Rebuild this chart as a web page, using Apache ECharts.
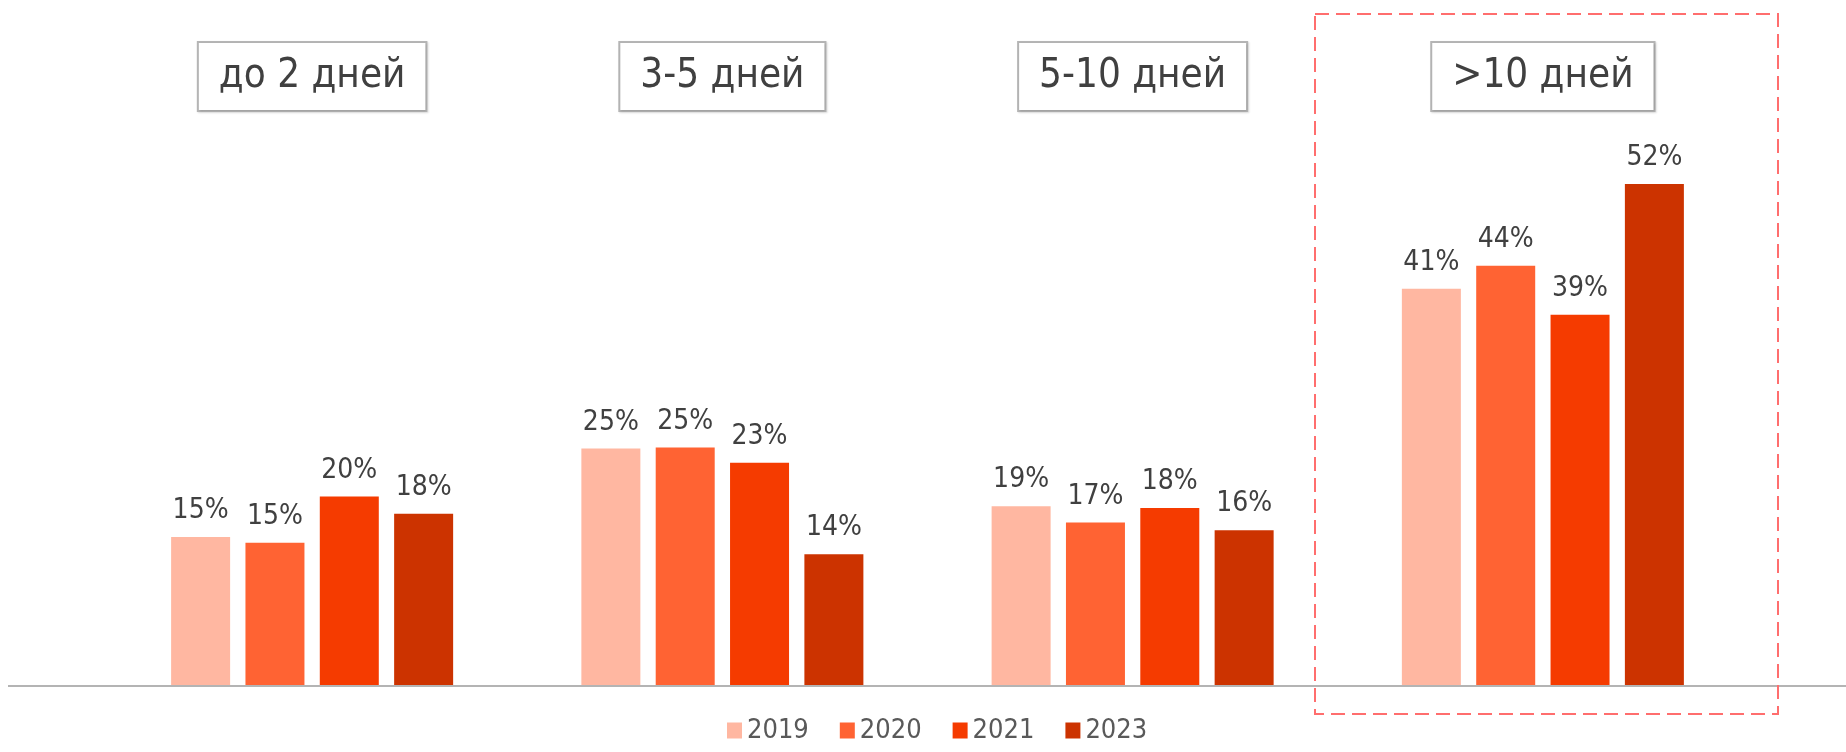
<!DOCTYPE html>
<html>
<head>
<meta charset="utf-8">
<script src="https://cdn.jsdelivr.net/npm/echarts@6/dist/echarts.min.js"></script>
<style>
  html, body { margin: 0; padding: 0; background: #fff; }
  #chart { width: 1846px; height: 752px; }
</style>
</head>
<body>
<div id="chart"></div>
<script>
// категории и значения (доли, %)
const categories = ['до 2 дней', '3-5 дней', '5-10 дней', '>10 дней']
const years = ['2019', '2020', '2021', '2023']
const v2019 = [15.4, 24.6, 18.6, 41.2]
const v2020 = [14.8, 24.7, 16.9, 43.6]
const v2021 = [19.6, 23.1, 18.4, 38.5]
const v2023 = [17.8, 13.6, 16.1, 52.1]
const colors = ['#FFB7A1', '#FF6333', '#F53B00', '#CC3300']

const font = '"DejaVu Sans Condensed", "DejaVu Sans", sans-serif'
const seriesValues = [v2019, v2020, v2021, v2023]

const chart = echarts.init(document.getElementById('chart'))

const option = {
  animation: false,
  color: colors,
  grid: { left: 107, right: 98, top: 108, bottom: 67 },
  legend: {
    data: years,
    left: 722,
    bottom: 3,
    itemWidth: 15,
    itemHeight: 16,
    itemGap: 31,
    icon: 'rect',
    textStyle: { fontFamily: font, fontSize: 27, color: '#595959' }
  },
  xAxis: [
    {
      type: 'category',
      data: categories,
      axisLine: { show: false },
      axisTick: { show: false },
      axisLabel: { show: false }
    },
    {
      type: 'category',
      position: 'top',
      data: categories,
      axisLine: { show: false },
      axisTick: { show: false },
      axisLabel: {
        margin: -2,
        fontFamily: font,
        fontSize: 40,
        lineHeight: 44,
        color: '#404040',
        borderColor: '#b5b5b5',
        borderWidth: 2,
        padding: [12, 20, 11, 20],
        backgroundColor: '#fff',
        shadowColor: 'rgba(0,0,0,0.15)',
        shadowOffsetX: 1,
        shadowOffsetY: 1,
        shadowBlur: 2
      }
    }
  ],
  yAxis: { type: 'value', min: 0, max: 60, show: false },
  series: years.map((y, i) => ({
    name: y,
    type: 'bar',
    data: seriesValues[i],
    barWidth: 59,
    barGap: '26%',
    itemStyle: { color: colors[i] },
    label: {
      show: true,
      position: 'top',
      distance: 12,
      fontFamily: font,
      fontSize: 28,
      color: '#404040',
      formatter: p => Math.round(p.value) + '%'
    }
  })),
  graphic: [
    {
      // линия оси на всю ширину
      type: 'line',
      shape: { x1: 8, y1: 686, x2: 1846, y2: 686 },
      style: { stroke: '#b4b4b4', lineWidth: 2 },
      z: 1
    },
    {
      // пунктирная рамка вокруг >10 дней
      type: 'rect',
      shape: { x: 1315, y: 14, width: 463, height: 700 },
      style: { fill: 'none', stroke: '#ff6e6e', lineWidth: 2, lineDash: [14, 7] },
      z: 10
    }
  ]
}

chart.setOption(option)
</script>
</body>
</html>
